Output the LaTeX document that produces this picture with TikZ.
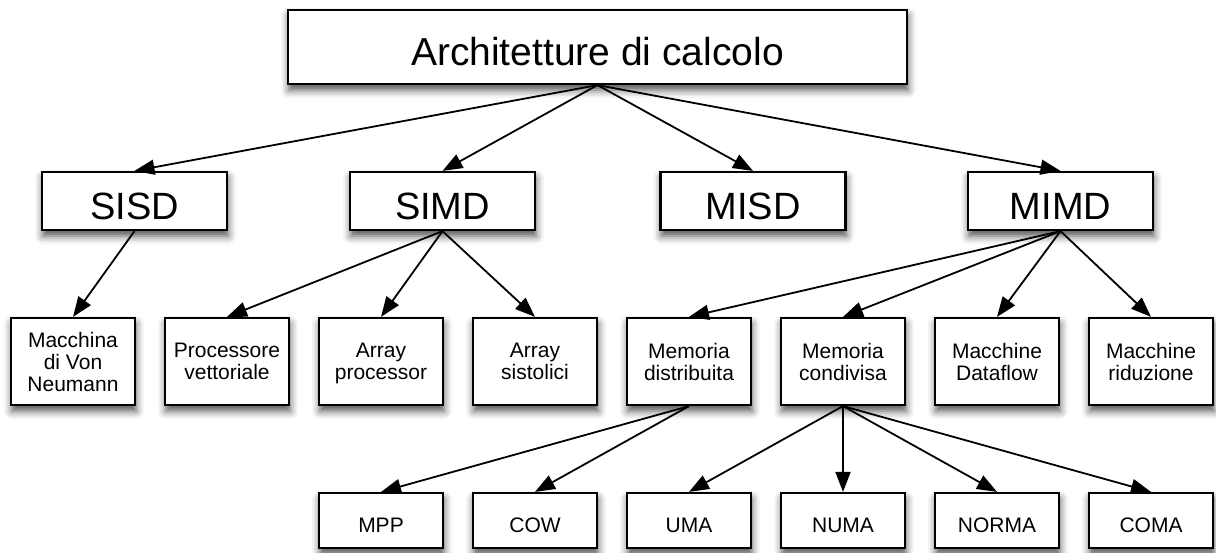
\documentclass[tikz,border=0pt]{standalone}
\usepackage{fontspec}
\setmainfont{Liberation Sans}
\usetikzlibrary{arrows.meta}
\usetikzlibrary{shadows.blur}

\tikzset{
  box/.style={draw=black, line width=2.2pt, fill=white, inner sep=0pt, align=center,
    blur shadow={shadow xshift=1pt, shadow yshift=-6pt, shadow blur radius=8pt, shadow opacity=70}},
  rootbox/.style={box, minimum width=619pt, minimum height=74pt, text height=37pt, text depth=0pt,
    font=\fontsize{39}{45}\selectfont},
  midbox/.style={box, minimum width=185pt, minimum height=58pt, text height=36pt, text depth=0pt,
    font=\fontsize{38}{44}\selectfont},
  leafbox/.style={box, minimum width=124pt, minimum height=87pt, text depth=-7pt,
    font=\fontsize{21}{22}\selectfont},
  lowbox/.style={box, minimum width=124pt, minimum height=55pt, text height=23pt, text depth=0pt,
    font=\fontsize{21}{22}\selectfont},
  link/.style={line width=1.8pt, -{Triangle[length=20pt, width=15pt]}},
}

\begin{document}
\begin{tikzpicture}[x=1pt, y=-1pt]
  \useasboundingbox (0, 0) rectangle (1216, 552);

  \node[rootbox] (A) at (597.5, 47) {Architetture di calcolo};

  \node[midbox] (B1) at (134.5, 201) {SISD};
  \node[midbox] (B2) at (442.5, 201) {SIMD};
  \node[midbox] (B3) at (753, 201) {MISD};
  \node[midbox] (B4) at (1060.5, 201) {MIMD};

  \node[leafbox] (C1) at (73, 361.5) {Macchina\\di Von\\Neumann};
  \node[leafbox] (C2) at (227, 361.5) {Processore\\vettoriale};
  \node[leafbox] (C3) at (381, 361.5) {Array\\processor};
  \node[leafbox] (C4) at (535, 361.5) {Array\\sistolici};
  \node[leafbox] (C5) at (689, 361.5) {Memoria\\distribuita};
  \node[leafbox] (C6) at (843, 361.5) {Memoria\\condivisa};
  \node[leafbox] (C7) at (997, 361.5) {Macchine\\Dataflow};
  \node[leafbox] (C8) at (1151, 361.5) {Macchine\\riduzione};

  \node[lowbox] (D1) at (381, 520.5) {MPP};
  \node[lowbox] (D2) at (535, 520.5) {COW};
  \node[lowbox] (D3) at (689, 520.5) {UMA};
  \node[lowbox] (D4) at (843, 520.5) {NUMA};
  \node[lowbox] (D5) at (997, 520.5) {NORMA};
  \node[lowbox] (D6) at (1151, 520.5) {COMA};

  \draw[link] (A.south) -- (B1.north);
  \draw[link] (A.south) -- (B2.north);
  \draw[link] (A.south) -- (B3.north);
  \draw[link] (A.south) -- (B4.north);

  \draw[link] (B1.south) -- (C1.north);
  \draw[link] (B2.south) -- (C2.north);
  \draw[link] (B2.south) -- (C3.north);
  \draw[link] (B2.south) -- (C4.north);
  \draw[link] (B4.south) -- (C5.north);
  \draw[link] (B4.south) -- (C6.north);
  \draw[link] (B4.south) -- (C7.north);
  \draw[link] (B4.south) -- (C8.north);

  \draw[link] (C5.south) -- (D1.north);
  \draw[link] (C5.south) -- (D2.north);
  \draw[link] (C6.south) -- (D3.north);
  \draw[link] (C6.south) -- (D4.north);
  \draw[link] (C6.south) -- (D5.north);
  \draw[link] (C6.south) -- (D6.north);
\end{tikzpicture}
\end{document}
